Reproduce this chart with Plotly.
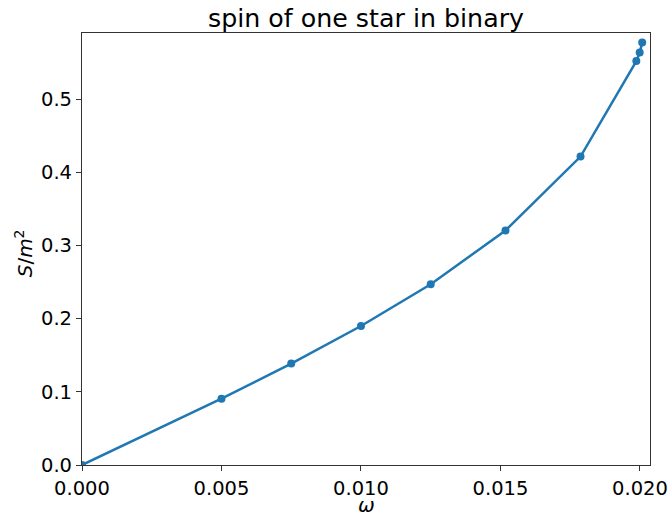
import plotly.graph_objects as go

omega = [0.0, 0.005, 0.0075, 0.01, 0.0125, 0.01518, 0.01787, 0.01987, 0.01999, 0.02008]
spin = [0.0, 0.0907, 0.1386, 0.190, 0.247, 0.3205, 0.4215, 0.552, 0.5636, 0.5773]
x_ticks = [0.0, 0.005, 0.010, 0.015, 0.020]
x_tick_labels = ["0.000", "0.005", "0.010", "0.015", "0.020"]
y_ticks = [0.0, 0.1, 0.2, 0.3, 0.4, 0.5]
y_tick_labels = ["0.0", "0.1", "0.2", "0.3", "0.4", "0.5"]
x_label = "<i>ω</i>"
y_label = "<i>S</i>/<i>m</i><sup>2</sup>"

fig = go.Figure()
fig.add_trace(go.Scatter(
    x=omega, y=spin, mode="lines+markers",
    line=dict(color="#1f77b4", width=2.5),
    marker=dict(color="#1f77b4", size=8),
    showlegend=False,
))

axis_common = dict(
    showline=True, linecolor="#333333", linewidth=1.2, mirror=True,
    ticks="outside", ticklen=5, tickcolor="#333333", tickwidth=1.2,
    showgrid=False, zeroline=False, automargin=False,
    tickfont=dict(family="DejaVu Sans", size=19.5, color="black"),
)

fig.update_layout(
    width=669, height=514,
    margin=dict(l=82, r=19, t=33, b=49),
    paper_bgcolor="white", plot_bgcolor="white",
    font=dict(family="DejaVu Sans", color="black"),
    title=dict(text="spin of one star in binary", x=0.5, xanchor="center",
               y=1 - 18/514, yanchor="middle",
               xref="paper", automargin=False,
               font=dict(family="DejaVu Sans", size=25.3, color="black")),
    xaxis=dict(range=[0.0, 0.02036], tickvals=x_ticks, ticktext=x_tick_labels,
               **axis_common),
    yaxis=dict(range=[0.0, 0.5904], tickvals=y_ticks, ticktext=y_tick_labels,
               **axis_common),
    annotations=[
        dict(text=x_label, xref="paper", yref="paper", x=0.5, y=-(505 - 465) / 432,
             xanchor="center", yanchor="middle", showarrow=False,
             font=dict(family="DejaVu Sans", size=20, color="black")),
        dict(text=y_label, xref="paper", yref="paper", x=-(82 - 24) / 568, y=0.49,
             xanchor="center", yanchor="middle", showarrow=False, textangle=-90,
             font=dict(family="DejaVu Sans", size=20, color="black")),
    ],
)

fig.write_html("out.html", config={"displayModeBar": False},
               post_script="document.body.style.margin='0px';document.body.style.overflow='hidden';")
